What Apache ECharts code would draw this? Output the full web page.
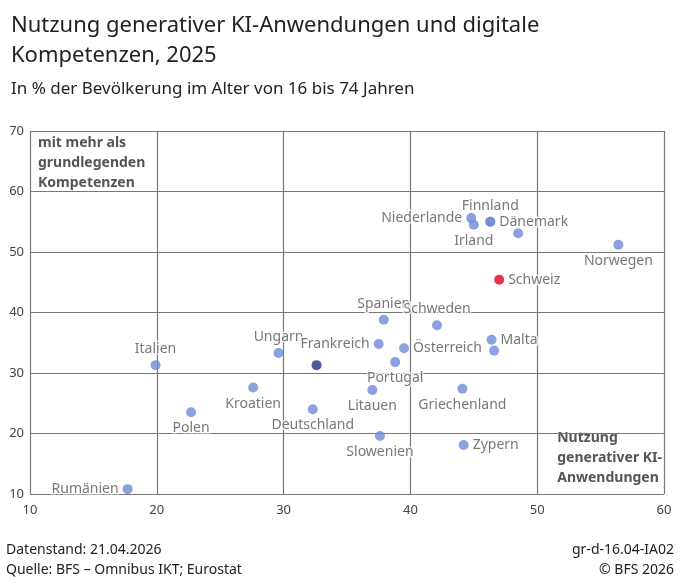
<!DOCTYPE html>
<html><head><meta charset="utf-8">
<script src="https://cdn.jsdelivr.net/npm/echarts@6/dist/echarts.min.js"></script>
<style>html,body{margin:0;padding:0;background:#fff}#c{width:680px;height:588px}</style>
</head><body><div id="c"></div>
<script>
const countries = ['Rumänien','Italien','Polen','Kroatien','Ungarn','EU','Deutschland','Frankreich','Spanien','Litauen','Österreich','Portugal','Slowenien','Schweden','Griechenland','Zypern','Malta','Belgien','Niederlande','Irland','Finnland','Dänemark','Estland','Norwegen','Schweiz'];
const kiUse = [17.7,19.9,22.7,27.6,29.6,32.6,32.3,37.5,37.9,37.0,39.5,38.8,37.6,42.1,44.1,44.2,46.4,46.6,44.8,45.0,46.3,46.3,48.5,56.4,47.0];
const skills = [10.8,31.3,23.5,27.6,33.3,31.3,24.0,34.8,38.8,27.2,34.1,31.8,19.6,37.9,27.4,18.1,35.5,33.7,55.6,54.5,55.0,55.0,53.1,51.2,45.4];
const labelPos = ['left','top','bottom','bottom','top','none','bottom','left','top','bottom','right','bottom','bottom','top','bottom','right','right','none','left','bottom','top','right','none','bottom','right'];
const groups = ['c','c','c','c','c','eu','c','c','c','c','c','c','c','c','c','c','c','c','c','c','c','c','c','c','ch'];
const colors = {c:'#6f8ad8', eu:'#1f3380', ch:'#e2001a'};

const data = countries.map((n,i)=>({
  name:n, value:[kiUse[i],skills[i]],
  itemStyle:{color:colors[groups[i]]},
  label:{show:labelPos[i]!=='none', position:labelPos[i]==='none'?'top':labelPos[i]}
}));
const ch = echarts.init(document.getElementById('c'));
ch.setOption({
  animation:false,
  title:[
    {text:'Nutzung generativer KI-Anwendungen und digitale\nKompetenzen, 2025',left:6,top:6,textStyle:{fontFamily:'Noto Sans',fontSize:22,fontWeight:'normal',color:'#222',lineHeight:30}},
    {text:'In % der Bevölkerung im Alter von 16 bis 74 Jahren',left:6,top:76,textStyle:{fontFamily:'Noto Sans',fontSize:17,fontWeight:'normal',color:'#222'}}
  ],
  grid:{left:30,right:16,top:131,bottom:94},
  xAxis:{type:'value',min:10,max:60,interval:10,
    axisLine:{show:false},axisTick:{show:false},
    splitLine:{lineStyle:{color:'#777',width:1.2}},
    axisLabel:{fontFamily:'Noto Sans',fontSize:13,color:'#444',margin:10}},
  yAxis:{type:'value',min:10,max:70,interval:10,
    axisLine:{show:false},axisTick:{show:false},
    splitLine:{lineStyle:{color:'#777',width:1.2}},
    axisLabel:{fontFamily:'Noto Sans',fontSize:13,color:'#444',margin:6}},
  graphic:[
    {type:'rect',left:32,top:133,shape:{width:122,height:60},style:{fill:'#fff'}},
    {type:'text',left:38,top:133,style:{text:'mit mehr als\ngrundlegenden\nKompetenzen',font:'bold 14px "Noto Sans"',fill:'#555',lineHeight:20}},
    {type:'rect',right:18,top:428,shape:{width:72,height:62},style:{fill:'#fff'}},
    {type:'text',right:18,top:428,style:{text:'Nutzung\ngenerativer KI-\nAnwendungen',font:'bold 14px "Noto Sans"',fill:'#555',lineHeight:20,align:'right'}},
    {type:'text',left:6,top:543,style:{text:'Datenstand: 21.04.2026',font:'14px "Noto Sans"',fill:'#222'}},
    {type:'text',left:6,top:563,style:{text:'Quelle: BFS – Omnibus IKT; Eurostat',font:'14px "Noto Sans"',fill:'#222'}},
    {type:'text',right:6,top:543,style:{text:'gr-d-16.04-IA02',font:'14px "Noto Sans"',fill:'#222',align:'right'}},
    {type:'text',right:6,top:563,style:{text:'© BFS 2026',font:'14px "Noto Sans"',fill:'#222',align:'right'}}
  ],
  series:[{type:'scatter',symbolSize:10,data:data,
    label:{formatter:'{b}',fontFamily:'Noto Sans',fontSize:14,color:'#555',textBorderColor:'#fff',textBorderWidth:3,distance:4}}]
});
</script></body></html>
